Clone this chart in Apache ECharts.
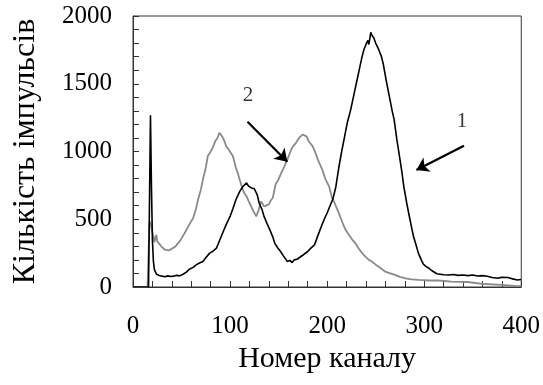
<!DOCTYPE html>
<html>
<head>
<meta charset="utf-8">
<script src="https://cdn.jsdelivr.net/npm/echarts@6/dist/echarts.min.js"></script>
<style>html,body{margin:0;padding:0;background:#fff}#c{width:543px;height:385px}</style>
</head>
<body>
<div id="c"></div>
<script>
// Series 1 (black): channel numbers and counts
const ch1 = [0,16,17,18,19,20,21,22,24,27,30,33,36,39,42,45,48,52,55,58,62,65,68,72,75,79,82,86,89,93,96,100,103,106,110,113,117,119,122,125,128,130,133,135,138,141,144,146,149,152,155,159,162,164,166,169,171,173,176,180,183,187,190,194,197,200,203,206,209,212,215,218,221,224,227,230,233,236,238,240,242,243,245,246,248,250,252,253,256,258,261,264,267,269,272,274,277,279,282,284,287,289,292,294,297,299,302,305,308,310,313,315,320,325,330,335,340,345,350,355,360,365,370,376,380,386,390,396,400];
const cnt1 = [0,0,0,1267,750,348,190,130,96,85,80,76,82,78,80,86,82,96,110,131,145,163,175,188,215,250,262,287,340,410,460,521,580,644,706,740,768,745,731,725,680,620,570,521,470,422,370,324,290,262,230,188,195,180,200,205,215,225,240,262,285,311,370,447,500,546,600,650,740,880,1000,1110,1220,1300,1400,1500,1600,1700,1755,1790,1820,1790,1880,1860,1840,1800,1770,1755,1700,1640,1520,1410,1300,1237,1080,990,850,743,620,546,440,373,300,250,200,170,150,138,120,110,98,94,90,89,92,86,89,84,88,81,84,79,70,64,72,70,62,52,55];
// Series 2 (grey)
const ch2 = [0,15,16,17,18,19,20,21,22,23,24,25,27,29,31,33,35,37,39,41,44,46,48,51,55,58,62,65,67,70,72,75,77,80,82,85,87,89,90,92,94,96,99,103,106,108,110,113,115,117,120,122,124,127,129,132,135,137,140,142,144,147,149,152,156,159,163,165,168,171,175,177,179,181,185,188,191,195,198,202,205,207,210,212,216,219,222,226,229,232,236,240,243,246,250,255,260,265,270,275,281,287,294,300,305,315,328,345,362,379,390,396,400];
const cnt2 = [0,0,0,484,470,447,400,373,330,360,385,336,320,300,312,275,262,270,280,287,300,320,336,370,422,460,509,580,644,720,793,880,965,1000,1027,1080,1100,1138,1150,1110,1080,1040,1010,965,880,840,790,720,690,669,620,607,560,521,560,632,595,583,610,640,657,760,780,830,891,940,1015,1040,1064,1100,1126,1120,1110,1076,1040,990,930,867,800,743,660,632,580,546,472,422,390,348,324,290,250,220,200,188,165,140,113,100,89,75,64,57,52,50,48,48,40,37,22,15,10,7,6];
// Axis ticks
const xTickLabels = [0,100,200,300,400];
const yTickLabels = [0,500,1000,1500,2000];
// Annotations: curve labels and arrows (data coordinates)
const annoText = ['1','2'];
const annoTextPos = [[339,1220],[118.5,1417]];
const arrowFrom = [[341,1043],[118,1220]];
const arrowTo = [[292,863],[159,925]];

const FONT = '"Liberation Serif", "Times New Roman", serif';
const chart = echarts.init(document.getElementById('c'), null, {renderer:'canvas'});
const axisCol = '#333';
chart.setOption({
  animation:false,
  backgroundColor:'#fff',
  grid:{left:133,top:16,right:21,bottom:98,show:true,borderColor:axisCol,borderWidth:1,backgroundColor:'transparent'},
  xAxis:{
    type:'value',min:0,max:400,interval:20,
    name:'Номер каналу',nameLocation:'middle',nameGap:56,
    nameTextStyle:{fontFamily:FONT,fontSize:30,color:'#000'},
    axisLine:{show:true,lineStyle:{color:axisCol,width:1}},
    axisTick:{show:true,inside:true,length:6,lineStyle:{color:axisCol}},
    axisLabel:{fontFamily:FONT,fontSize:25,color:'#000',margin:27,
      formatter:v=>xTickLabels.includes(v)?String(v):''},
    splitLine:{show:false}
  },
  yAxis:{
    type:'value',min:0,max:2000,interval:100,
    name:'Кількість імпульсів',nameLocation:'middle',nameGap:91,nameRotate:90,
    nameTextStyle:{fontFamily:FONT,fontSize:32,color:'#000'},
    axisLine:{show:true,lineStyle:{color:axisCol,width:1}},
    axisTick:{show:true,inside:true,length:6,lineStyle:{color:axisCol}},
    axisLabel:{fontFamily:FONT,fontSize:25,color:'#000',margin:21,padding:[7,0,0,0],
      formatter:v=>yTickLabels.includes(v)?String(v):''},
    splitLine:{show:false}
  },
  series:[
    {type:'line',data:ch2.map((c,i)=>[c,cnt2[i]]),showSymbol:false,
      lineStyle:{color:'#8a8a8a',width:1.8},itemStyle:{color:'#8a8a8a'}},
    {type:'line',data:ch1.map((c,i)=>[c,cnt1[i]]),showSymbol:false,
      lineStyle:{color:'#000',width:1.6},itemStyle:{color:'#000'},
      markLine:{silent:true,symbol:['none','arrow'],symbolSize:12,
        lineStyle:{color:'#000',width:2.2,type:'solid'},itemStyle:{color:'#000'},label:{show:false},
        emphasis:{disabled:true},
        data:arrowFrom.map((f,i)=>[{coord:f},{coord:arrowTo[i]}])}},
    {type:'scatter',data:annoTextPos,symbolSize:0,silent:true,
      label:{show:true,position:'inside',fontFamily:FONT,fontSize:21,color:'#000',
        formatter:p=>annoText[p.dataIndex]}}
  ]
});
</script>
</body>
</html>
